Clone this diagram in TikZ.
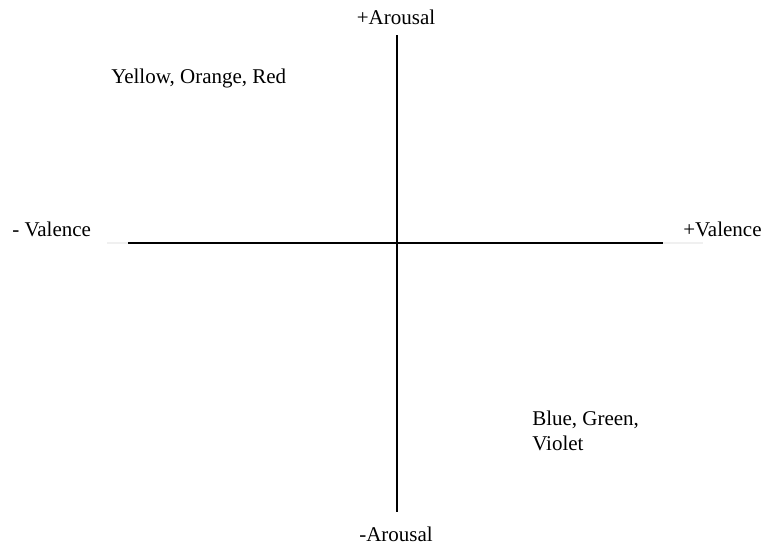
\documentclass[tikz,border=0pt]{standalone}
\usepackage{fontspec}
\setmainfont{Liberation Serif}
\usetikzlibrary{positioning}

\begin{document}
\begin{tikzpicture}[x=0.75pt, y=-0.75pt,
        lb/.style={inner sep=0pt, anchor=base west, font=\fontsize{15.75}{18.75}\selectfont},
        ax/.style={line width=1.5pt, black},
        fd/.style={line width=1pt, black!6}]
        \useasboundingbox (0,0) rectangle (768,547);
        % axis end points
        \coordinate (top) at (397,35);
        \coordinate (bot) at (397,512);
        \coordinate (lft) at (128,243);
        \coordinate (rgt) at (663,243);
        \coordinate (lfx) at (107,243);
        \coordinate (rgx) at (703,243);
        \draw[fd] (lfx) -- (lft);
        \draw[fd] (rgt) -- (rgx);
        \draw[ax] (lft) -- (rgt);
        \draw[ax] (top) -- (bot);
        % labels
        \node[lb, anchor=base] (pa) at (396,24) {+Arousal};
        \node[lb, anchor=base] (ma) at (396,541) {-Arousal};
        \node[lb] (mv) at (12,236) {- Valence};
        \node[lb] (pv) at (683,236) {+Valence};
        \node[lb] (warm) at (111,83) {Yellow, Orange, Red};
        \node[lb, align=left, anchor=north west] (cool) at (532,411) {Blue, Green,\\Violet};
    \end{tikzpicture}
\end{document}
